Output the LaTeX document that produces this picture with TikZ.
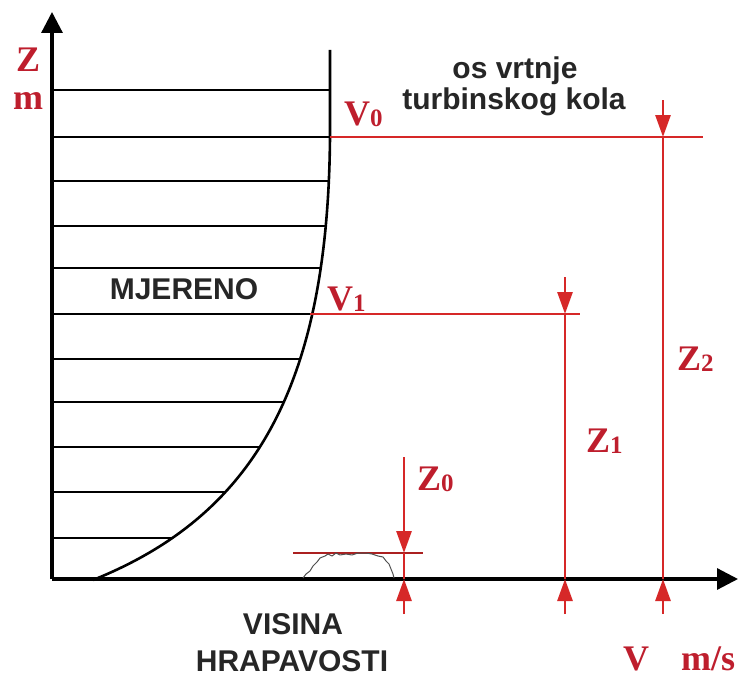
\documentclass[tikz,border=0pt]{standalone}
\usepackage{fontspec}
\setmainfont{Liberation Serif}
\newfontfamily\labfont{Liberation Sans}
\usetikzlibrary{arrows.meta}
\definecolor{redline}{RGB}{214,40,40}
\definecolor{redtext}{RGB}{190,30,45}
\definecolor{roughgray}{RGB}{80,80,80}
\newcommand{\redsz}{\fontsize{36}{40}\selectfont\bfseries}
\newcommand{\subsz}[1]{\raisebox{-1pt}{\fontsize{25}{27}\selectfont\bfseries #1}}
\begin{document}
\begin{tikzpicture}[x=1pt,y=-1pt,
  axisline/.style={line width=3.2pt,black,-{Triangle[width=21pt,length=21pt]}},
  layer/.style={line width=2.4pt,black},
  profile/.style={line width=2.6pt,black},
  levelline/.style={line width=2.4pt,redline},
  dimline/.style={line width=2.8pt,redline},
  dimtip/.style={line width=2.8pt,redline,-{Triangle[width=15pt,length=22pt]}},
  redlab/.style={text=redtext,font=\redsz,inner sep=0pt,anchor=base west},
  blacklab/.style={text=black!85,font=\labfont\fontsize{30}{32}\selectfont\bfseries,inner sep=0pt,anchor=base},
  rough/.style={line width=1pt,roughgray,line join=round}]
\useasboundingbox (0,0) rectangle (742,677);
% named coordinates
\coordinate (O) at (52,579);
\coordinate (Ytop) at (52,12);
\coordinate (Xend) at (738,579);
\coordinate (Pb) at (93,580);
\coordinate (Pm) at (330,137);
\coordinate (Pt) at (330,50);
% layers clipped by the profile curve
\begin{scope}
\clip (52,580) -- (Pb) .. controls (255,515) and (328,385) .. (Pm) -- (Pt) -- (52,50) -- cycle;
\foreach \yy in {90,137,181,226,268,314,359,402,447,492,538}
  \draw[layer] (52,\yy) -- (345,\yy);
\end{scope}
% profile curve
\draw[profile] (Pb) .. controls (255,515) and (328,385) .. (Pm) -- (Pt);
% axes
\draw[axisline] (O) -- (Ytop);
\draw[axisline] (O) -- (Xend);
% level lines
\coordinate (V0a) at (330,137);
\coordinate (V0b) at (703,137);
\coordinate (V1a) at (310,314);
\coordinate (V1b) at (580,314);
\draw[levelline] (V0a) -- (V0b);
\draw[levelline] (V1a) -- (V1b);
% Z2 dimension
\coordinate (Z2t) at (663,137);
\coordinate (Z2b) at (663,579);
\coordinate (Z2u) at (663,100);
\coordinate (Z2d) at (663,614);
\draw[dimline] (Z2t) -- (Z2b);
\draw[dimtip] (Z2u) -- (Z2t);
\draw[dimtip] (Z2d) -- (Z2b);
% Z1 dimension
\coordinate (Z1t) at (565,314);
\coordinate (Z1b) at (565,579);
\coordinate (Z1u) at (565,277);
\coordinate (Z1d) at (565,614);
\draw[dimline] (Z1t) -- (Z1b);
\draw[dimtip] (Z1u) -- (Z1t);
\draw[dimtip] (Z1d) -- (Z1b);
% Z0 roughness height
\coordinate (Rl) at (293,553);
\coordinate (Rr) at (423,553);
\coordinate (Z0t) at (404,457);
\coordinate (Z0m) at (404,553);
\coordinate (Z0b) at (404,579);
\coordinate (Z0d) at (404,614);
\draw[line width=1.2pt,redline!80!black] (Rl) -- (Rr);
\draw[line width=1.2pt,redline] (Z0m) -- (Z0b);
\draw[dimtip] (Z0t) -- (Z0m);
\draw[dimtip] (Z0d) -- (Z0b);
% roughness bump
\draw[rough] (303,578) -- (306,574) -- (310,571) -- (313,566) -- (317,562) -- (320,558) -- (325,556) -- (328,554) -- (332,556) -- (336,553) -- (340,555) -- (346,554) -- (352,555) -- (358,553) -- (366,553) -- (372,554) -- (378,556) -- (383,557) -- (386,561) -- (389,564) -- (391,569) -- (393,574) -- (394,578);
% red labels
\node[redlab] (lZ) at (16,72) {Z};
\node[redlab] (lm) at (13,110) {m};
\node[redlab] (lV0) at (344,125) {V\subsz{0}};
\node[redlab] (lV1) at (327,310) {V\subsz{1}};
\node[redlab] (lZ0) at (417,490) {Z\subsz{0}};
\node[redlab] (lZ1) at (586,452) {Z\subsz{1}};
\node[redlab] (lZ2) at (677,370) {Z\subsz{2}};
\node[redlab] (lV) at (623,670) {V\hspace{32pt}m/s};
% black labels
\node[blacklab] (os1) at (515,78) {os vrtnje};
\node[blacklab] (os2) at (514,110) {turbinskog kola};
\node[blacklab] (mj) at (184,299) {MJERENO};
\node[blacklab] (vis) at (293,634) {VISINA};
\node[blacklab] (hrap) at (292,671) {HRAPAVOSTI};
\end{tikzpicture}
\end{document}
